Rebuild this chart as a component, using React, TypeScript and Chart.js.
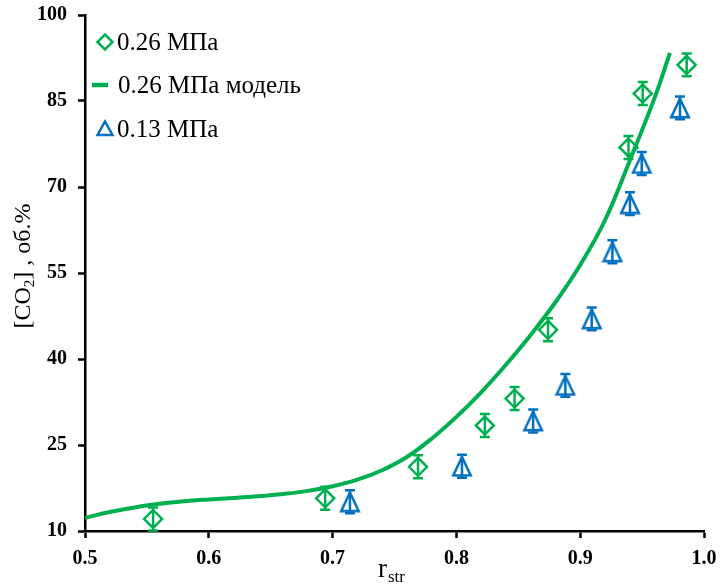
import React, { useEffect, useRef } from 'react';
import { Chart, registerables } from 'chart.js';

Chart.register(...registerables);

const GREEN = '#00B050';
const BLUE = '#0070C0';

const xTicks = [0.5, 0.6, 0.7, 0.8, 0.9, 1.0];
const yTicks = [10, 25, 40, 55, 70, 85, 100];

const legendLabels = ['0.26 МПа', '0.26 МПа модель', '0.13 МПа'];

const greenX = [0.555, 0.694, 0.769, 0.823, 0.847, 0.874, 0.939, 0.9505, 0.986];
const greenY = [12.1, 15.7, 21.2, 28.4, 33.1, 45.1, 76.9, 86.3, 91.3];
const greenErr = [2, 2, 2, 2, 2, 2, 2, 2, 2];

const blueX = [0.714, 0.8045, 0.862, 0.888, 0.9093, 0.926, 0.9402, 0.9497, 0.9806];
const blueY = [15.1, 21.3, 29.2, 35.4, 47.0, 58.7, 67.1, 74.1, 83.8];
const blueErr = [2, 2, 2, 2, 2, 2, 2, 2, 2];

const modelX = [0.5, 0.52, 0.54, 0.56, 0.58, 0.6, 0.62, 0.64, 0.66, 0.68, 0.7, 0.72, 0.74, 0.76, 0.78, 0.8, 0.82, 0.84, 0.86, 0.88, 0.9, 0.92, 0.94, 0.96, 0.9725];
const modelY = [12.3, 13.3, 14.1, 14.75, 15.2, 15.5, 15.75, 16.05, 16.45, 17.0, 17.8, 18.95, 20.6, 22.9, 26.1, 29.9, 34.2, 39.0, 44.2, 49.9, 56.4, 64.2, 74.6, 85.5, 93.4];

const SERIF = "'Liberation Serif', 'Times New Roman', serif";

function makeTriangle(size: number, lw: number, color: string): HTMLCanvasElement {
  const c = document.createElement('canvas');
  c.width = size;
  c.height = size;
  const ctx = c.getContext('2d')!;
  const m = lw / 2 + 0.5;
  ctx.strokeStyle = color;
  ctx.lineWidth = lw;
  ctx.lineJoin = 'miter';
  ctx.beginPath();
  ctx.moveTo(size / 2, m);
  ctx.lineTo(size - m - 0.5, size - m);
  ctx.lineTo(m + 0.5, size - m);
  ctx.closePath();
  ctx.stroke();
  return c;
}

const errorBarPlugin = {
  id: 'errorBars',
  afterDatasetsDraw(chart: any) {
    const ctx = chart.ctx;
    const xs = chart.scales.x;
    const ys = chart.scales.y;
    chart.data.datasets.forEach((ds: any, i: number) => {
      if (!ds.errors) return;
      const meta = chart.getDatasetMeta(i);
      if (meta.hidden) return;
      ctx.save();
      ctx.strokeStyle = ds.borderColor;
      ctx.lineWidth = 2.5;
      ds.data.forEach((p: any, j: number) => {
        const e = ds.errors[j];
        const px = xs.getPixelForValue(p.x);
        const top = ys.getPixelForValue(p.y + e);
        const bot = ys.getPixelForValue(p.y - e);
        const cw = 5;
        ctx.beginPath();
        ctx.moveTo(px, top);
        ctx.lineTo(px, bot);
        ctx.moveTo(px - cw, top);
        ctx.lineTo(px + cw, top);
        ctx.moveTo(px - cw, bot);
        ctx.lineTo(px + cw, bot);
        ctx.stroke();
      });
      ctx.restore();
    });
  },
};

const decorPlugin = {
  id: 'decor',
  afterDraw(chart: any) {
    const ctx = chart.ctx;
    ctx.save();
    // legend
    ctx.fillStyle = '#000';
    ctx.textBaseline = 'middle';
    ctx.textAlign = 'left';
    ctx.font = `25px ${SERIF}`;
    const lx = 105;
    const rows = [42, 85, 129];
    ctx.strokeStyle = GREEN;
    ctx.lineWidth = 2.5;
    ctx.beginPath();
    ctx.moveTo(lx, rows[0] - 7.5);
    ctx.lineTo(lx + 7.5, rows[0]);
    ctx.lineTo(lx, rows[0] + 7.5);
    ctx.lineTo(lx - 7.5, rows[0]);
    ctx.closePath();
    ctx.stroke();
    ctx.lineWidth = 4.5;
    ctx.beginPath();
    ctx.moveTo(92, rows[1]);
    ctx.lineTo(108, rows[1]);
    ctx.stroke();
    ctx.strokeStyle = BLUE;
    ctx.lineWidth = 2.5;
    ctx.beginPath();
    ctx.moveTo(lx, rows[2] - 7.5);
    ctx.lineTo(lx + 7.5, rows[2] + 6);
    ctx.lineTo(lx - 7.5, rows[2] + 6);
    ctx.closePath();
    ctx.stroke();
    ctx.fillText(legendLabels[0], 117, rows[0] + 1);
    ctx.fillText(legendLabels[1], 118, rows[1] + 1);
    ctx.fillText(legendLabels[2], 117, rows[2] + 1);

    // y axis title with subscript
    ctx.translate(22, 266);
    ctx.rotate(-Math.PI / 2);
    const big = `24px ${SERIF}`;
    const small = `15px ${SERIF}`;
    const parts: [string, string, number][] = [
      ['[CO', big, 0],
      ['2', small, 4],
      ['] , об.%', big, 0],
    ];
    let total = 0;
    parts.forEach(([t, f]) => {
      ctx.font = f;
      total += ctx.measureText(t).width;
    });
    let cx = -total / 2;
    ctx.textBaseline = 'alphabetic';
    parts.forEach(([t, f, dy]) => {
      ctx.font = f;
      ctx.fillText(t, cx, 8 + dy);
      cx += ctx.measureText(t).width;
    });
    ctx.restore();

    // x axis title r_str
    ctx.save();
    ctx.fillStyle = '#000';
    ctx.textBaseline = 'alphabetic';
    ctx.textAlign = 'left';
    ctx.font = `27px ${SERIF}`;
    ctx.fillText('r', 378, 577);
    const rw = ctx.measureText('r').width;
    ctx.font = `17px ${SERIF}`;
    ctx.fillText('str', 378 + rw + 1, 582);
    ctx.restore();
  },
};

export default function App() {
  const ref = useRef<HTMLCanvasElement>(null);
  useEffect(() => {
    if (!ref.current) return;
    const tri = makeTriangle(22, 2.5, BLUE);
    const tickFont = { family: SERIF, size: 20, weight: 'bold' as const };
    const chart = new Chart(ref.current, {
      type: 'scatter',
      data: {
        datasets: [
          {
            type: 'line',
            label: legendLabels[1],
            data: modelX.map((x, i) => ({ x, y: modelY[i] })),
            borderColor: GREEN,
            backgroundColor: GREEN,
            borderWidth: 4,
            pointRadius: 0,
            showLine: true,
            fill: false,
            tension: 0.4,
          } as any,
          {
            label: legendLabels[0],
            data: greenX.map((x, i) => ({ x, y: greenY[i] })),
            errors: greenErr,
            borderColor: GREEN,
            backgroundColor: 'rgba(0,0,0,0)',
            pointStyle: 'rectRot',
            pointRadius: 9,
            pointBorderWidth: 2.5,
          } as any,
          {
            label: legendLabels[2],
            data: blueX.map((x, i) => ({ x, y: blueY[i] })),
            errors: blueErr,
            borderColor: BLUE,
            backgroundColor: 'rgba(0,0,0,0)',
            pointStyle: tri,
            pointRadius: 10,
          } as any,
        ],
      },
      options: {
        responsive: false,
        animation: false,
        devicePixelRatio: 1,
        layout: { padding: { left: 0, top: 15, right: 16, bottom: 0 } },
        plugins: {
          legend: { display: false },
          tooltip: { enabled: false },
        },
        scales: {
          x: {
            type: 'linear',
            min: 0.5,
            max: 1.0,
            afterBuildTicks: (s: any) => {
              s.ticks = xTicks.map((v) => ({ value: v }));
            },
            afterFit: (s: any) => {
              s.height = 57;
              s.paddingLeft = 0;
              s.paddingRight = 0;
            },
            ticks: {
              font: tickFont,
              color: '#000',
              padding: 9,
              maxRotation: 0,
              callback: (v: any) => Number(v).toFixed(1),
            },
            grid: {
              display: true,
              drawOnChartArea: false,
              drawTicks: true,
              tickLength: 7,
              tickWidth: 2.5,
              tickColor: '#000',
            },
            border: { display: true, color: '#000', width: 2.5 },
          },
          y: {
            type: 'linear',
            min: 10,
            max: 100,
            afterBuildTicks: (s: any) => {
              s.ticks = yTicks.map((v) => ({ value: v }));
            },
            afterFit: (s: any) => {
              s.width = 85;
              s.paddingTop = 0;
              s.paddingBottom = 0;
            },
            ticks: {
              font: tickFont,
              color: '#000',
              padding: 11,
              callback: (v: any) => String(v),
            },
            grid: {
              display: true,
              drawOnChartArea: false,
              drawTicks: true,
              tickLength: 7,
              tickWidth: 2.5,
              tickColor: '#000',
            },
            border: { display: true, color: '#000', width: 2.5 },
          },
        },
      } as any,
      plugins: [errorBarPlugin, decorPlugin],
    });
    return () => chart.destroy();
  }, []);
  return (
    <div style={{ position: 'absolute', left: 0, top: 0, width: 720, height: 588, background: '#fff' }}>
      <canvas ref={ref} width={720} height={588} style={{ width: 720, height: 588, display: 'block' }} />
    </div>
  );
}
